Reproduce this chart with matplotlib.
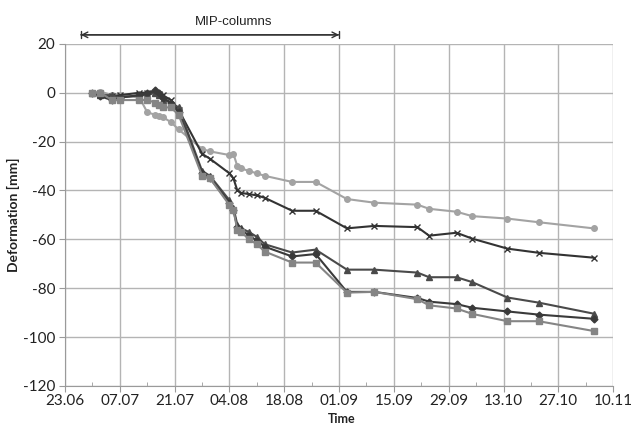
import matplotlib
matplotlib.use("Agg")
import matplotlib.pyplot as plt
from datetime import datetime, timedelta

YEAR = 2009
dates = ["30.06", "02.07", "05.07", "07.07", "12.07", "14.07", "16.07", "17.07",
         "18.07", "20.07", "22.07", "28.07", "30.07", "04.08", "05.08", "06.08",
         "07.08", "09.08", "11.08", "13.08", "20.08", "26.08", "03.09", "10.09",
         "21.09", "24.09", "01.10", "05.10", "14.10", "22.10", "05.11"]

s_circle = [0, 0.5, -1, -1, -2, -8, -9, -9.5, -10, -12, -15, -23, -24, -25.5, -25,
            -30, -31, -32, -33, -34, -36.5, -36.5, -43.5, -45, -45.8, -47.5, -48.7,
            -50.5, -51.5, -53, -55.5]
s_cross = [0, -1, -1.5, -1, 0, 0, 0, -0.5, -1, -3, -7, -25, -27, -33, -35, -40,
           -41, -41.5, -42, -43, -48.3, -48.3, -55.5, -54.5, -55, -58.5, -57.3,
           -59.7, -63.8, -65.5, -67.5]
s_triangle = [0, -1, -1, -2, -1, -1, 0, -1, -3, -4, -6, -32, -34, -44, -47, -54,
              -55.5, -57, -59, -62, -65.4, -64.2, -72.4, -72.4, -73.6, -75.5, -75.5,
              -77.5, -83.8, -85.9, -90.4]
s_diamond = [0, -1.5, -3, -2, -1, 0, 1, 0, -2, -4, -8, -33, -35, -45, -48, -55,
             -56, -58.5, -60.5, -63, -67, -66, -81.5, -81.5, -84, -85.5, -86.5,
             -88, -89.5, -90.8, -92.5]
s_square = [0, 0, -3, -3, -3, -3, -4, -5, -6, -6, -9, -34, -35, -46, -48, -56,
            -57, -60, -62, -65, -69.5, -69.5, -81.8, -81.5, -84.5, -87, -88.3,
            -90.5, -93.5, -93.5, -97.5]

xtick_labels = ["23.06", "07.07", "21.07", "04.08", "18.08", "01.09", "15.09",
                "29.09", "13.10", "27.10", "10.11"]
yticks = [20, 0, -20, -40, -60, -80, -100, -120]
mip_start, mip_end = "27.06", "01.09"
mip_label = "MIP-columns"


def d(s):
    return datetime.strptime(f"{s}.{YEAR}", "%d.%m.%Y")


x = [d(s) for s in dates]

fig = plt.figure(figsize=(6.38, 4.26), dpi=100)
ax = fig.add_axes([0.102, 0.094, 0.859, 0.803])

series = [
    (s_circle, "#a3a3a3", "o", 4),
    (s_cross, "#333333", "x", 4),
    (s_triangle, "#4a4a4a", "^", 4),
    (s_diamond, "#3a3a3a", "D", 3.5),
    (s_square, "#858585", "s", 4),
]
for vals, col, mk, ms in series:
    ax.plot(x, vals, color=col, lw=1.5, marker=mk, ms=ms, mew=1.0,
            mfc=col, mec=col, zorder=3)

xt = [d(s) for s in xtick_labels]
ax.set_xlim(xt[0], xt[-1])
ax.set_xticks(xt)
ax.set_xticklabels(xtick_labels)
ax.set_xticks([t + timedelta(days=7) for t in xt[:-1]], minor=True)
ax.set_ylim(-120, 20)
ax.set_yticks(yticks)
ax.set_yticklabels([str(v) for v in yticks])

ax.grid(True, which="major", color="#b4b4b4", lw=1.0, zorder=0)
for sp in ["top", "right"]:
    ax.spines[sp].set_visible(False)
for sp in ["left", "bottom"]:
    ax.spines[sp].set_color("#9a9a9a")
ax.tick_params(axis="x", which="major", direction="out", length=4,
               color="#9a9a9a", labelsize=11, pad=2)
ax.tick_params(axis="x", which="minor", direction="in", length=3,
               color="#9a9a9a")
ax.tick_params(axis="y", which="major", direction="out", length=4,
               color="#9a9a9a", labelsize=11, pad=3)
for lab in ax.get_xticklabels() + ax.get_yticklabels():
    lab.set_family("Lato")
    lab.set_color("#222222")

ax.set_ylabel("Deformation [mm]", fontsize=10, fontweight="bold",
              family="Lato", labelpad=2, color="#222222")
fig.text(0.535, 0.003, "Time", ha="center", va="bottom", fontsize=9,
         fontweight="bold", family="Lato", color="#222222")

ax.annotate("", xy=(d(mip_end), 23.7), xytext=(d(mip_start), 23.7),
            arrowprops=dict(arrowstyle="<->", color="#333333", lw=1.0,
                            shrinkA=0, shrinkB=0),
            annotation_clip=False)
ax.annotate("", xy=(d(mip_end), 23.7), xytext=(d(mip_start), 23.7),
            arrowprops=dict(arrowstyle="|-|,widthA=0.25,widthB=0.25",
                            color="#333333", lw=1.0, shrinkA=0, shrinkB=0),
            annotation_clip=False)
ax.text(d("10.08") - timedelta(days=5), 28.8, mip_label, ha="center",
        va="center", fontsize=9.5, family="Liberation Sans", color="#222222",
        clip_on=False)

fig.savefig("out.png", dpi=100)
